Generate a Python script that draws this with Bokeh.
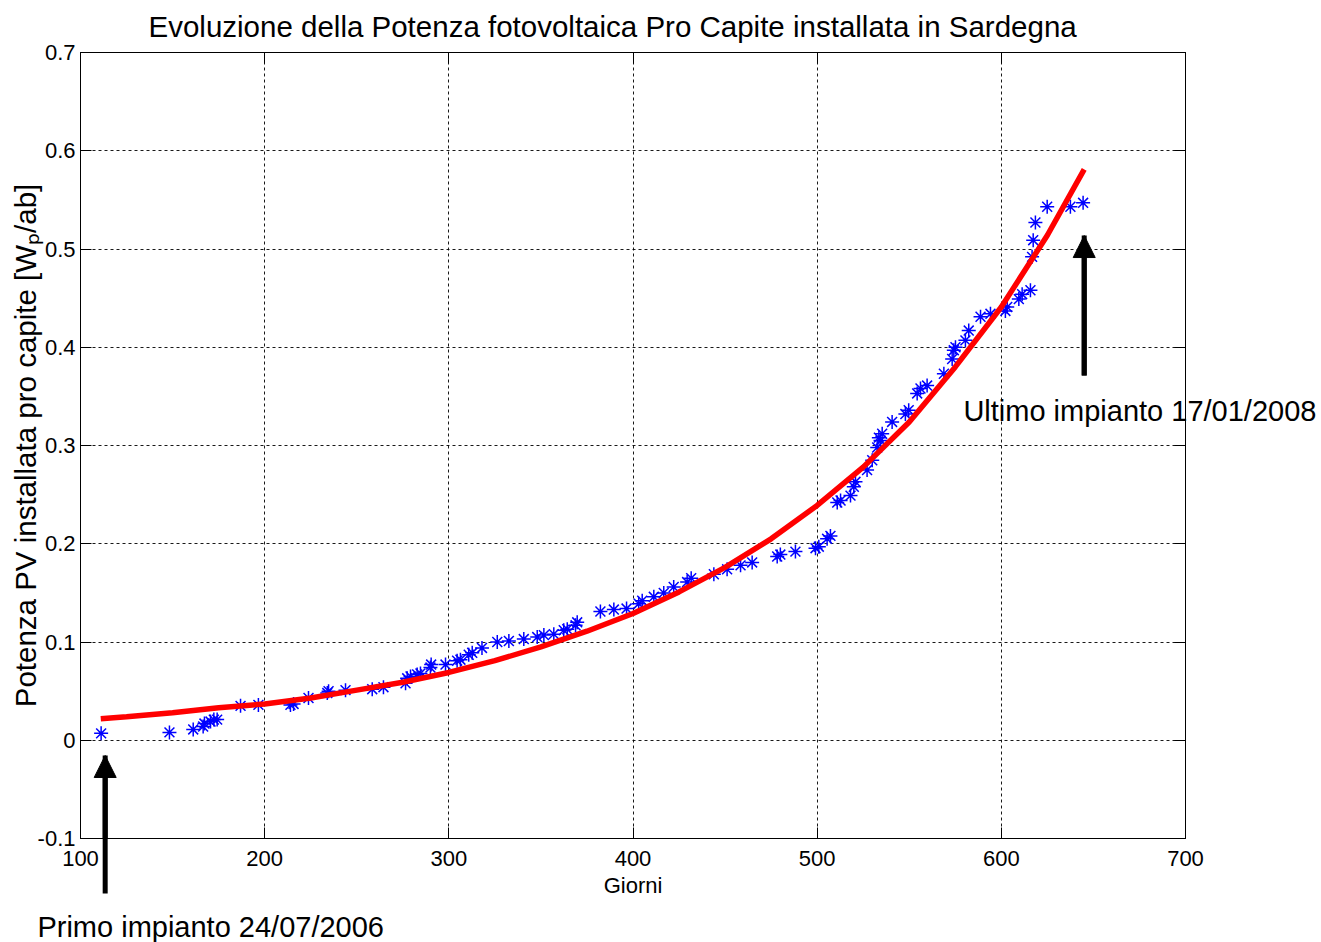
from bokeh.plotting import figure
from bokeh.models import Range1d, FixedTicker, LinearAxis, Arrow, NormalHead
from bokeh.core.properties import value
from bokeh.embed import file_html
from bokeh.resources import INLINE

title_text = "Evoluzione della Potenza fotovoltaica Pro Capite installata in Sardegna"
x_label = "Giorni"
y_label = "Potenza PV installata pro capite [W\u209a/ab]"

x_ticks = [100, 200, 300, 400, 500, 600, 700]
x_tick_labels = ["100", "200", "300", "400", "500", "600", "700"]
y_ticks = [-0.1, 0.0, 0.1, 0.2, 0.3, 0.4, 0.5, 0.6, 0.7]
y_tick_labels = ["-0.1", "0", "0.1", "0.2", "0.3", "0.4", "0.5", "0.6", "0.7"]

# measured data (days, W/inhabitant)
days = [111.2, 148.3, 161.2, 166.6, 167.3, 170.6, 172.4, 174.2, 186.9, 196.6,
        214.0, 215.7, 223.8, 234.0, 234.7, 243.9, 258.4, 264.5, 276.5, 277.4,
        279.2, 282.8, 284.6, 290.0, 290.4, 298.2, 304.5, 306.3, 310.8, 312.7,
        318.0, 326.3, 332.6, 340.7, 348.0, 351.6, 357.0, 362.4, 364.3, 368.8,
        369.7, 382.3, 389.6, 396.5, 403.1, 405.0, 411.3, 416.7, 422.1, 429.4,
        431.6, 443.9, 451.1, 458.4, 464.7, 478.3, 480.0, 488.2, 499.1, 500.9,
        505.4, 507.2, 510.9, 512.7, 518.1, 519.9, 520.8, 527.1, 529.9, 532.6,
        533.5, 534.4, 535.3, 540.7, 547.9, 549.7, 554.3, 556.1, 559.7, 568.8,
        573.3, 574.2, 575.1, 580.5, 582.3, 588.7, 594.1, 602.2, 603.2, 609.5,
        611.3, 615.8, 616.7, 617.3, 618.5, 624.9, 637.5, 644.4]
power = [0.007, 0.008, 0.011, 0.014, 0.017, 0.019, 0.021, 0.021, 0.035, 0.036,
         0.036, 0.037, 0.043, 0.048, 0.050, 0.051, 0.052, 0.054, 0.058, 0.063,
         0.065, 0.067, 0.068, 0.074, 0.077, 0.077, 0.081, 0.082, 0.087, 0.089,
         0.094, 0.100, 0.101, 0.103, 0.105, 0.107, 0.108, 0.112, 0.113, 0.117,
         0.120, 0.131, 0.133, 0.134, 0.139, 0.142, 0.146, 0.150, 0.156, 0.161,
         0.165, 0.169, 0.174, 0.178, 0.181, 0.187, 0.189, 0.192, 0.1955, 0.197,
         0.205, 0.208, 0.242, 0.244, 0.249, 0.258, 0.263, 0.275, 0.285, 0.298,
         0.308, 0.305, 0.312, 0.324, 0.332, 0.336, 0.353, 0.358, 0.361, 0.373,
         0.388, 0.397, 0.400, 0.407, 0.417, 0.431, 0.434, 0.437, 0.441, 0.449,
         0.454, 0.458, 0.492, 0.509, 0.527, 0.543, 0.543, 0.547]

# fitted trend (red curve)
fit_days = [111, 125, 150, 175, 200, 225, 250, 275, 300, 325, 350, 375,
            400, 425, 450, 475, 500, 525, 550, 575, 600, 625, 645]
fit_power = [0.022, 0.024, 0.028, 0.033, 0.037, 0.043, 0.051, 0.059, 0.069,
             0.081, 0.095, 0.111, 0.129, 0.151, 0.176, 0.205, 0.239, 0.278,
             0.324, 0.380, 0.441, 0.514, 0.581]

# annotations: texts, arrow days, arrow spans (tail, tip) and text anchors
note_texts = ["Primo impianto 24/07/2006", "Ultimo impianto 17/01/2008"]
note_x = [76.6, 579.4]
note_y = [-0.1905, 0.3356]
arrow_days = [113.4, 645.0]
arrow_tail = [-0.156, 0.3712]
arrow_tip = [-0.0155, 0.5137]

FONT = "Liberation Sans"

p = figure(width=1321, height=942, output_backend="svg", toolbar_location=None,
           x_range=Range1d(100, 700), y_range=Range1d(-0.1, 0.7),
           min_border_left=80, min_border_right=136, min_border_top=52,
           min_border_bottom=104)
p.background_fill_color = "white"
p.border_fill_color = "white"
p.outline_line_color = "black"
p.outline_line_width = 1

p.title.text = title_text
p.title.align = "left"
p.title.offset = 68
p.title.text_font = FONT
p.title.text_font_size = "29.5px"
p.title.text_font_style = "normal"
p.title.text_color = "black"
p.title.standoff = 16
p.title.vertical_align = "top"

for ax, ticks, labels in ((p.xaxis[0], x_ticks, x_tick_labels), (p.yaxis[0], y_ticks, y_tick_labels)):
    ax.ticker = FixedTicker(ticks=ticks)
    ax.major_label_overrides = dict(zip(ticks, labels))
    ax.major_label_text_font = FONT
    ax.major_label_text_font_size = "22px"
    ax.major_label_text_color = "black"
    ax.major_tick_in = 11
    ax.major_tick_out = 0
    ax.minor_tick_in = 0
    ax.minor_tick_out = 0
    ax.axis_line_color = "black"
    ax.major_tick_line_color = "black"
    ax.axis_label_text_font = FONT
    ax.axis_label_text_font_style = "normal"
    ax.axis_label_text_color = "black"

p.xaxis.axis_label = x_label
p.xaxis.axis_label_text_font_size = "22px"
p.xaxis.major_label_standoff = 12
p.xaxis.axis_label_standoff = 4
p.yaxis.axis_label = y_label
p.yaxis.axis_label_text_font_size = "29.5px"
p.yaxis.major_label_standoff = 5
p.yaxis.axis_label_standoff = -7


def tick_axis(ticks):
    return LinearAxis(ticker=FixedTicker(ticks=ticks), major_label_text_font_size="1px",
                      major_label_text_color=None, major_label_standoff=0,
                      major_tick_in=11, major_tick_out=0, minor_tick_in=0,
                      minor_tick_out=0, axis_line_color="black")


p.add_layout(tick_axis(x_ticks), "above")
p.add_layout(tick_axis(y_ticks), "right")

for g in (p.xgrid[0], p.ygrid[0]):
    g.grid_line_color = "black"
    g.grid_line_dash = "3 3"
    g.grid_line_width = 1
    g.grid_line_alpha = 0.9

p.scatter(days, power, marker="asterisk", size=14, line_color="blue", line_width=1.5)
p.line(fit_days, fit_power, line_color="red", line_width=5.5)

# arrow shafts (drawn above the frame clip so they can run past the axes)
p.segment(x0=arrow_days, y0=arrow_tail, x1=arrow_days, y1=arrow_tip,
          line_color="black", line_width=5, level="overlay")
for xd, yt, yh in zip(arrow_days, arrow_tail, arrow_tip):
    p.add_layout(Arrow(end=NormalHead(size=22, fill_color="black", line_color="black"),
                       x_start=xd, y_start=yt, x_end=xd, y_end=yh,
                       line_width=5, line_color="black"))

p.text(x=note_x, y=note_y, text=note_texts, text_font=value(FONT),
       text_font_size=value("29px"), text_color="black",
       text_baseline="alphabetic", text_align="left", level="overlay")

open("out.html", "w").write(file_html(p, INLINE))
